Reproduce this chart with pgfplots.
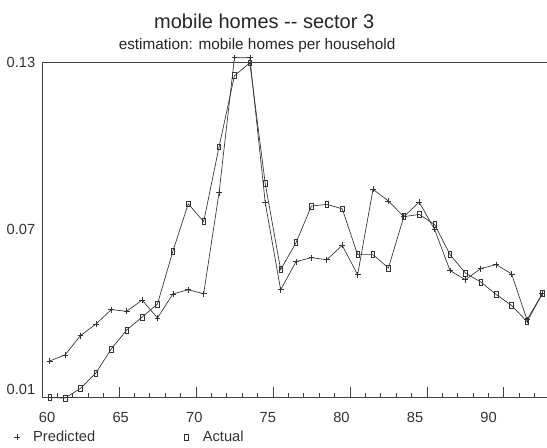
\documentclass[border=0pt]{standalone}
\usepackage{pgfplots}
\pgfplotsset{compat=1.18}
\usepackage{pgfplotstable}
\usepackage{fontspec}
\setmainfont{Liberation Sans}

\pgfplotstableread{
t     pred    act
60.5  0.0229  0.0098
61.5  0.0251  0.0096
62.5  0.0320  0.0131
63.5  0.0361  0.0186
64.5  0.0413  0.0272
65.5  0.0407  0.0340
66.5  0.0447  0.0386
67.5  0.0383  0.0433
68.5  0.0469  0.0622
69.5  0.0484  0.0792
70.5  0.0470  0.0728
71.5  0.0832  0.0996
72.5  0.1315  0.1251
73.5  0.1315  0.1297
74.5  0.0796  0.0864
75.5  0.0484  0.0556
76.5  0.0585  0.0653
77.5  0.0599  0.0784
78.5  0.0592  0.0790
79.5  0.0643  0.0774
80.5  0.0538  0.0610
81.5  0.0844  0.0610
82.5  0.0802  0.0562
83.5  0.0746  0.0746
84.5  0.0798  0.0754
85.5  0.0700  0.0718
86.5  0.0553  0.0610
87.5  0.0520  0.0544
88.5  0.0560  0.0512
89.5  0.0574  0.0467
90.5  0.0541  0.0428
91.5  0.0377  0.0370
92.5  0.0470  0.0470
}\datatable

\begin{document}
\begin{tikzpicture}
\begin{axis}[
  scale only axis,
  width=378.75pt, height=251.25pt,
  xmin=60, xmax=92.8,
  ymin=0.01, ymax=0.13,
  clip=false,
  axis line style={black!75, line width=0.6pt},
  tick style={black!75, line width=0.6pt},
  tick align=inside,
  xtick pos=lower,
  ytick pos=both,
  xtick={60,65,...,90},
  xticklabels={},
  minor xtick={60,...,92},
  major tick length=7.5pt,
  minor tick length=3pt,
  extra x ticks={60.33,65.11,69.89,74.67,79.45,84.23,89.01},
  extra x tick labels={60,65,70,75,80,85,90},
  extra x tick style={major tick length=0pt, xticklabel style={yshift=-8pt}},
  ytick={0.01,0.07,0.13},
  yticklabels={\raisebox{12pt}{0.01},0.07,0.13},
  ytick style={draw=none},
  minor ytick={0.07},
  yticklabel style={xshift=-1.5pt},
  ticklabel style={font=\fontsize{11}{13}\selectfont, text=black!80},
  /pgf/number format/assume math mode=true,
  legend columns=2,
  legend style={at={(rel axis cs:-0.07,-0.085)}, anchor=north west, draw=none, fill=none,
    font=\fontsize{11}{13}\selectfont, text=black!80,
    /tikz/every even column/.append style={column sep=62pt}},
  legend cell align=left,
  legend image code/.code={\draw[#1,only marks] plot coordinates {(0.15cm,0cm)}; \path (0cm,0cm) (0.5cm,0cm);},
]
\addplot[black!80, line width=0.5pt, mark=+, mark size=2.2pt, mark options={solid}] table[x=t,y=pred] {\datatable};
\addlegendentry{Predicted}
\addplot[black!80, line width=0.5pt, mark=square, mark size=2.2pt, mark options={solid, xscale=0.6, line width=0.5pt}] table[x=t,y=act] {\datatable};
\addlegendentry{Actual}
\node[anchor=base, font=\fontsize{15}{18}\selectfont, text=black!85] at (rel axis cs:0.44,1.0985) {mobile homes {-}{-} sector 3};
\node[anchor=base, font=\fontsize{11.5}{14}\selectfont, text=black!85] at (rel axis cs:0.426,1.036) {estimation: mobile homes per household};
\end{axis}
\pgfresetboundingbox
\path (-31.5pt,-38.25pt) rectangle (378.75pt,297.75pt);
\end{tikzpicture}
\end{document}
